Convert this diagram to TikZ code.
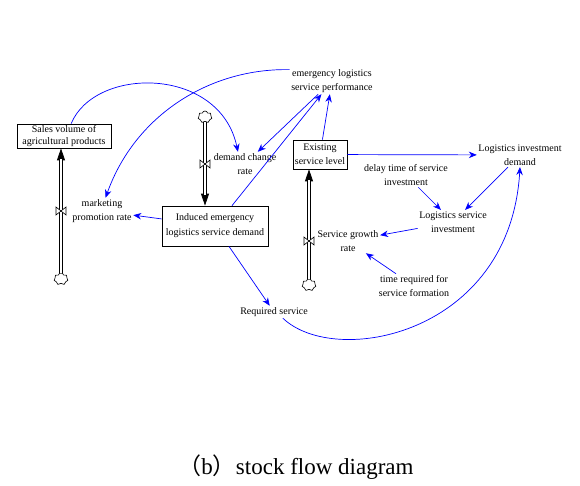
\documentclass[tikz,border=0pt]{standalone}
\usepackage{fontspec}
\setmainfont{Liberation Serif}
\newfontfamily\cjk{Noto Sans CJK SC}
\usetikzlibrary{arrows.meta,shapes.symbols}
\begin{document}
\begin{tikzpicture}[x=1pt,y=-1pt,
  var/.style={align=center,font=\fontsize{10}{14}\selectfont,inner sep=1.5pt},
  stock/.style={draw,line width=0.7pt,align=center,inner sep=0pt},
  link/.style={draw=blue,line width=0.7pt,-{Stealth[length=8pt,width=6.5pt,fill=blue]}},
  flowtip/.style={line width=0.8pt,-{Triangle[length=12pt,width=8pt]}},
  pipe/.style={double,double distance=2pt,line width=0.7pt,shorten >=11pt},
  source/.style={cloud,draw,fill=white,cloud puffs=7,minimum width=14pt,minimum height=12pt,inner sep=0pt,line width=0.6pt},
  valve/.style={draw,fill=white,line width=0.6pt}
]
\useasboundingbox (0,0) rectangle (580,485);

% stocks
\node[stock,minimum width=94pt,minimum height=24pt,font=\fontsize{10}{12}\selectfont] (sales) at (64,136) {Sales volume of\\agricultural products};
\node[stock,minimum width=106pt,minimum height=40pt,font=\fontsize{10}{15}\selectfont] (ind) at (215,226) {Induced emergency\\logistics service demand};
\node[stock,minimum width=54pt,minimum height=29pt,font=\fontsize{10}{14}\selectfont] (exist) at (320,154.5) {Existing\\service level};

% variables
\node[var] (emer) at (332,81) {emergency logistics\\service performance};
\node[var] (dcr) at (245,164) {demand change\\rate};
\node[var] (mpr) at (102,211) {marketing\\promotion rate};
\node[var] (lid) at (520,155) {Logistics investment\\demand};
\node[var] (delay) at (406,175) {delay time of service\\investment};
\node[var] (lsi) at (453,222) {Logistics service\\investment};
\node[var] (sgr) at (348,241) {Service growth\\rate};
\node[var] (time) at (414,286) {time required for\\service formation};
\node[var] (rs) at (274,312) {Required service};

% clouds
\node[source] (c1) at (61,279) {};
\node[source] (c2) at (205,117) {};
\node[source] (c3) at (309,285) {};

% flows
\draw[flowtip] (c1) -- (c1 |- sales.south);
\draw[pipe] (c1) -- (c1 |- sales.south);
\draw[flowtip] (c2) -- (c2 |- ind.north);
\draw[pipe] (c2) -- (c2 |- ind.north);
\draw[flowtip] (c3) -- (c3 |- exist.south);
\draw[pipe] (c3) -- (c3 |- exist.south);

% valves
\coordinate (v1) at (61,211);
\coordinate (v2) at (205,164);
\coordinate (v3) at (309,241);
\foreach \v in {v1,v2,v3}{
  \draw[valve] ([shift={(-5,-4)}]\v) -- ([shift={(5,4)}]\v) -- ([shift={(5,-4)}]\v) -- ([shift={(-5,4)}]\v) -- cycle;
}

% links
\draw[link] (sales.60) .. controls (95,66) and (220,66) .. (dcr.120);
\draw[link] (emer.165) .. controls (210,68) and (135,115) .. (mpr.75);
\draw[link] (ind) -- (mpr);
\draw[link] (emer) -- (dcr);
\draw[link] (ind.north) ++(17,0) -- (emer);
\draw[link] (exist) -- (emer);
\draw[link] (exist) -- (lid);
\draw[link] (lid) -- (lsi);
\draw[link] (delay) -- (lsi);
\draw[link] (lsi) -- (sgr);
\draw[link] (time) -- (sgr);
\draw[link] (ind) -- (rs);
\draw[link] (rs.-35) .. controls (335,368) and (510,335) .. (lid.south);

% caption
\node[font=\fontsize{23}{27}\selectfont] (cap) at (296,467) {{\cjk （}b{\cjk ）}stock flow diagram};
\end{tikzpicture}
\end{document}
